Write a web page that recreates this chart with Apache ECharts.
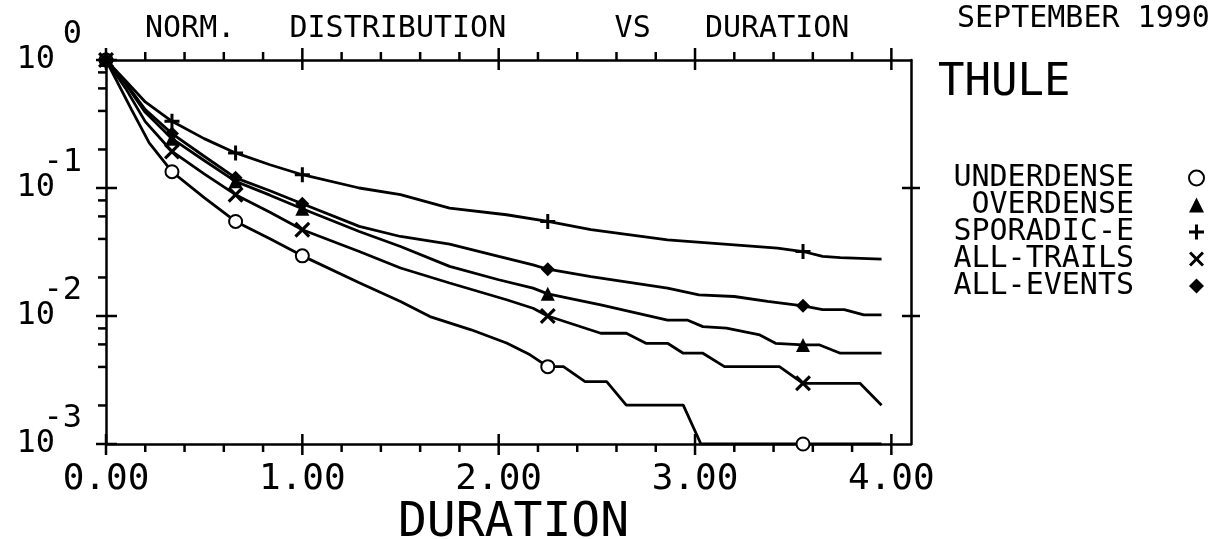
<!DOCTYPE html>
<html>
<head>
<meta charset="utf-8">
<title>Norm. distribution vs duration - Thule</title>
<script src="https://cdn.jsdelivr.net/npm/echarts@6/dist/echarts.min.js"></script>
<style>
  html, body { margin: 0; padding: 0; background: #fff; }
  #chart { width: 1218px; height: 539px; }
</style>
</head>
<body>
<div id="chart"></div>
<script>
// values: [duration, normalized count]
const underdense = [
  [0, 1], [0.13, 0.41], [0.22, 0.225], [0.336, 0.134], [0.5, 0.084], [0.66, 0.0548],
  [0.835, 0.0401], [1.0, 0.0295], [1.29, 0.0182], [1.5, 0.013], [1.65, 0.0099],
  [1.86, 0.0078], [2.04, 0.00615], [2.16, 0.00497], [2.25, 0.00402], [2.33, 0.00402],
  [2.44, 0.00307], [2.55, 0.00307], [2.65, 0.00201], [2.94, 0.00201], [3.03, 0.001],
  [3.55, 0.001], [3.95, 0.001]
];
const overdense = [
  [0, 1], [0.1, 0.65], [0.2, 0.39], [0.336, 0.243], [0.5, 0.164], [0.66, 0.1127],
  [0.835, 0.0879], [1.0, 0.0689], [1.29, 0.0457], [1.5, 0.0349], [1.75, 0.0244],
  [2.0, 0.0192], [2.175, 0.0165], [2.25, 0.0149], [2.52, 0.0122], [2.86, 0.0093],
  [2.96, 0.0093], [3.04, 0.00826], [3.16, 0.00803], [3.33, 0.00711], [3.41, 0.00612],
  [3.55, 0.00594], [3.635, 0.00594], [3.74, 0.00512], [3.95, 0.00512]
];
const sporadicE = [
  [0, 1], [0.1, 0.69], [0.2, 0.47], [0.336, 0.332], [0.5, 0.243], [0.66, 0.188],
  [0.835, 0.152], [1.0, 0.127], [1.29, 0.1], [1.5, 0.0887], [1.75, 0.0697],
  [2.04, 0.0618], [2.25, 0.0548], [2.47, 0.0472], [2.86, 0.0394], [3.2, 0.036],
  [3.42, 0.0339], [3.55, 0.0319], [3.65, 0.0292], [3.74, 0.0286], [3.95, 0.0278]
];
const allTrails = [
  [0, 1], [0.1, 0.6], [0.2, 0.33], [0.336, 0.193], [0.5, 0.129], [0.66, 0.0887],
  [0.835, 0.0647], [1.0, 0.0472], [1.29, 0.0319], [1.5, 0.0237], [1.75, 0.0181],
  [2.04, 0.0134], [2.175, 0.0115], [2.25, 0.01], [2.52, 0.00733], [2.65, 0.00733],
  [2.75, 0.00612], [2.86, 0.00612], [2.94, 0.00512], [3.04, 0.00512], [3.15, 0.00402],
  [3.43, 0.00402], [3.55, 0.00298], [3.84, 0.00298], [3.95, 0.00201]
];
const allEvents = [
  [0, 1], [0.1, 0.66], [0.2, 0.41], [0.336, 0.266], [0.5, 0.177], [0.66, 0.12],
  [0.835, 0.0952], [1.0, 0.0754], [1.29, 0.0501], [1.5, 0.0418], [1.75, 0.0365],
  [2.0, 0.0292], [2.175, 0.0251], [2.25, 0.0232], [2.47, 0.0203], [2.86, 0.0165],
  [3.02, 0.0146], [3.2, 0.0142], [3.37, 0.013], [3.55, 0.012], [3.65, 0.0112],
  [3.76, 0.0112], [3.86, 0.0102], [3.95, 0.0102]
];

// durations where the plotter put a symbol on every curve
const markerX = [0, 0.336, 0.66, 1.0, 2.25, 3.55];

const xTicks = [0, 1, 2, 3, 4];
const xMinorTicks = [0.2, 0.4, 0.6, 0.8, 1.2, 1.4, 1.6, 1.8, 2.2, 2.4, 2.6, 2.8, 3.2, 3.4, 3.6, 3.8];
const yTicks = [1, 0.1, 0.01, 0.001];
const yMinorTicks = [0.8, 0.6, 0.4, 0.2, 0.08, 0.06, 0.04, 0.02, 0.008, 0.006, 0.004, 0.002];
const rightTicks = [0.1, 0.01];

const X_MIN = 0, X_MAX = 4.1, Y_MIN = 0.001, Y_MAX = 1;
const FONT = "'DejaVu Sans Mono', monospace";

const plusPath = 'path://M4,0H6V4H10V6H6V10H4V6H0V4H4Z';
const crossPath = 'path://M1.4,0L5,3.6L8.6,0L10,1.4L6.4,5L10,8.6L8.6,10L5,6.4L1.4,10L0,8.6L3.6,5L0,1.4Z';

// side: 0 bottom, 1 top, 2 left, 3 right ; last field 1 = major tick
const tickData = [].concat(
  xTicks.map(v => [v, Y_MIN, 0, 1]), xMinorTicks.map(v => [v, Y_MIN, 0, 0]),
  xTicks.map(v => [v, Y_MAX, 1, 1]), xMinorTicks.map(v => [v, Y_MAX, 1, 0]),
  yTicks.map(v => [X_MIN, v, 2, 1]), yMinorTicks.map(v => [X_MIN, v, 2, 0]),
  rightTicks.map(v => [X_MAX, v, 3, 1])
);

function isMarker(x) {
  return markerX.some(m => Math.abs(m - x) < 1e-6);
}

function lineSeries(name, points, symbol, size, itemStyle) {
  return {
    name: name,
    type: 'line',
    symbol: symbol,
    symbolSize: size,
    showAllSymbol: true,
    data: points.map(p => isMarker(p[0]) ? p : { value: p, symbol: 'none' }),
    lineStyle: { color: '#000', width: 2.8 },
    itemStyle: Object.assign({ color: '#000' }, itemStyle || {}),
    emphasis: { disabled: true },
    z: 3
  };
}

const chart = echarts.init(document.getElementById('chart'));

chart.setOption({
  animation: false,
  backgroundColor: '#fff',
  title: [
    {
      text: 'NORM.   DISTRIBUTION      VS   DURATION',
      left: 145, top: 14, padding: 0,
      textStyle: { fontFamily: FONT, fontSize: 30, lineHeight: 30, fontWeight: 'normal', color: '#000' }
    },
    {
      text: 'SEPTEMBER 1990',
      left: 957, top: 4, padding: 0,
      textStyle: { fontFamily: FONT, fontSize: 30, lineHeight: 30, fontWeight: 'normal', color: '#000' }
    },
    {
      text: 'THULE',
      left: 938, top: 62, padding: 0,
      textStyle: { fontFamily: FONT, fontSize: 44, lineHeight: 44, fontWeight: 'normal', color: '#000' }
    }
  ],
  legend: {
    orient: 'vertical',
    right: 13,
    top: 163,
    padding: 0,
    align: 'right',
    itemWidth: 15,
    itemHeight: 15,
    itemGap: -3,
    selectedMode: false,
    textStyle: { fontFamily: FONT, fontSize: 30, color: '#000', padding: [0, 50, 0, 0] },
    data: [
      { name: 'UNDERDENSE', icon: 'emptyCircle' },
      { name: 'OVERDENSE', icon: 'triangle' },
      { name: 'SPORADIC-E', icon: plusPath },
      { name: 'ALL-TRAILS', icon: crossPath },
      { name: 'ALL-EVENTS', icon: 'diamond' }
    ]
  },
  grid: {
    left: 106, right: 307, top: 60, bottom: 95,
    containLabel: false,
    outerBoundsMode: 'none'
  },
  xAxis: [
    {
      type: 'value',
      position: 'bottom',
      min: X_MIN, max: X_MAX, interval: 1,
      name: 'DURATION',
      nameLocation: 'middle',
      nameGap: 56,
      nameMoveOverlap: false,
      nameTextStyle: { fontFamily: FONT, fontSize: 48, lineHeight: 48, color: '#000', padding: [0, 0, 0, 10] },
      axisLine: { show: true, onZero: false, lineStyle: { color: '#000', width: 2.5 } },
      axisTick: { show: false },
      splitLine: { show: false },
      axisLabel: {
        fontFamily: FONT, fontSize: 36, lineHeight: 36, color: '#000', margin: 18,
        showMaxLabel: false,
        formatter: v => Math.abs(v - Math.round(v)) < 1e-6 ? v.toFixed(2) : ''
      }
    },
    {
      type: 'value',
      position: 'top',
      min: X_MIN, max: X_MAX, interval: 1,
      axisLine: { show: true, onZero: false, lineStyle: { color: '#000', width: 2.5 } },
      axisTick: { show: false },
      axisLabel: { show: false },
      splitLine: { show: false }
    }
  ],
  yAxis: [
    {
      type: 'log',
      logBase: 10,
      position: 'left',
      min: Y_MIN, max: Y_MAX,
      axisLine: { show: true, onZero: false, lineStyle: { color: '#000', width: 2.5 } },
      axisTick: { show: false },
      splitLine: { show: false },
      axisLabel: {
        margin: 24,
        padding: [0, 0, 25, 0],
        color: '#000',
        formatter: v => '{e|' + Math.round(Math.log10(v)) + '}\n{b|10}',
        rich: {
          e: { fontFamily: FONT, fontSize: 32, lineHeight: 25, color: '#000', align: 'right' },
          b: { fontFamily: FONT, fontSize: 32, lineHeight: 25, color: '#000', align: 'right', padding: [0, 27, 0, 0] }
        }
      }
    },
    {
      type: 'log',
      logBase: 10,
      position: 'right',
      min: Y_MIN, max: Y_MAX,
      axisLine: { show: true, onZero: false, lineStyle: { color: '#000', width: 2.5 } },
      axisTick: { show: false },
      axisLabel: { show: false },
      splitLine: { show: false }
    }
  ],
  series: [
    lineSeries('UNDERDENSE', underdense, 'emptyCircle', 13, { borderWidth: 2.8 }),
    lineSeries('OVERDENSE', overdense, 'triangle', 14),
    lineSeries('SPORADIC-E', sporadicE, plusPath, 15),
    lineSeries('ALL-TRAILS', allTrails, crossPath, 16),
    lineSeries('ALL-EVENTS', allEvents, 'diamond', 14),
    {
      // frame ticks (plotter style: majors cross the frame, minors point outward)
      name: 'ticks',
      type: 'custom',
      xAxisIndex: 0,
      yAxisIndex: 0,
      clip: false,
      silent: true,
      z: 4,
      encode: { x: 0, y: 1 },
      data: tickData,
      renderItem: function (params, api) {
        const p = api.coord([api.value(0), api.value(1)]);
        const side = api.value(2);
        const major = api.value(3) === 1;
        let shape;
        if (side === 0) {
          shape = major ? { x1: p[0], y1: p[1] - 10, x2: p[0], y2: p[1] + 11 }
                        : { x1: p[0], y1: p[1], x2: p[0], y2: p[1] + 8 };
        } else if (side === 1) {
          shape = major ? { x1: p[0], y1: p[1] - 12, x2: p[0], y2: p[1] + 10 }
                        : { x1: p[0], y1: p[1], x2: p[0], y2: p[1] - 8 };
        } else if (side === 2) {
          shape = major ? { x1: p[0] - 10, y1: p[1], x2: p[0] + 11, y2: p[1] }
                        : { x1: p[0], y1: p[1], x2: p[0] - 8, y2: p[1] };
        } else {
          shape = { x1: p[0] - 9, y1: p[1], x2: p[0] + 9, y2: p[1] };
        }
        return { type: 'line', shape: shape, style: { stroke: '#000', lineWidth: 2.5 } };
      }
    }
  ]
});
</script>
</body>
</html>
